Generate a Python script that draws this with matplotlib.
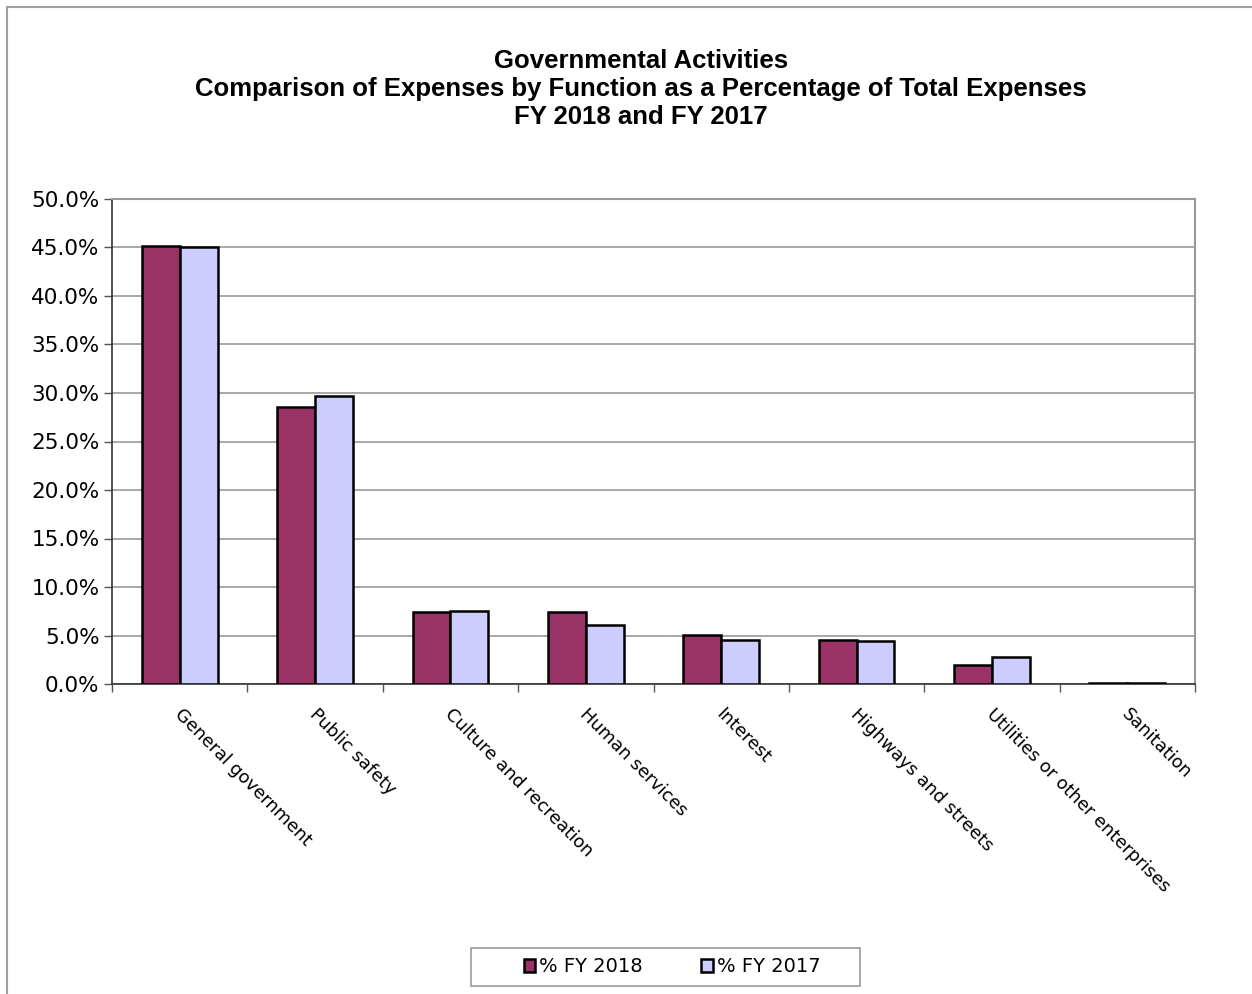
import matplotlib
matplotlib.use("Agg")
import matplotlib.pyplot as plt
import matplotlib.patches as mpatches
import numpy as np

categories = ["General government", "Public safety", "Culture and recreation",
              "Human services", "Interest", "Highways and streets",
              "Utilities or other enterprises", "Sanitation"]
fy2018 = [45.2, 28.6, 7.4, 7.4, 5.1, 4.5, 2.0, 0.1]
fy2017 = [45.0, 29.7, 7.5, 6.1, 4.5, 4.4, 2.8, 0.1]
series_labels = ["% FY 2018", "% FY 2017"]
yticks = np.arange(0, 50.1, 5)

W, H = 1252, 994
fig = plt.figure(figsize=(W / 100, H / 100), dpi=100)
fig.patch.set_facecolor("white")
FONT = "DejaVu Sans"

# outer chart frame
fig.add_artist(mpatches.Rectangle((7 / W, -0.01), 1.0, 1 - 7 / H + 0.01,
                                  transform=fig.transFigure, fill=False,
                                  edgecolor="#a0a0a0", linewidth=1.5))

ax = fig.add_axes([112 / W, 1 - 684 / H, (1195 - 112) / W, (684 - 199) / H])

x = np.arange(len(categories))
bw = 0.28
ax.bar(x - bw / 2, fy2018, bw, color="#993366", edgecolor="black", linewidth=1.8,
       label=series_labels[0], zorder=3)
ax.bar(x + bw / 2, fy2017, bw, color="#ccccff", edgecolor="black", linewidth=1.8,
       label=series_labels[1], zorder=3)

ax.set_xlim(-0.5, len(categories) - 0.5)
ax.set_ylim(0, 50)
ax.set_yticks(yticks)
ax.set_yticklabels([f"{v:.1f}%" for v in yticks], fontfamily=FONT, fontsize=15.5)
ax.yaxis.grid(True, color="#999999", linewidth=1.2, zorder=0)
ax.tick_params(axis="y", length=6, width=1, color="#555555", pad=3)

ax.set_xticks(np.arange(len(categories) + 1) - 0.5)
ax.set_xticklabels([])
ax.tick_params(axis="x", length=6, width=1, color="#555555")
for i, name in enumerate(categories):
    ax.annotate(name, xy=(i, 0), xycoords="data", xytext=(-2, -20),
                textcoords="offset points", rotation=-45, rotation_mode="anchor",
                ha="left", va="center", fontfamily=FONT, fontsize=12.9)

for side in ("top", "right"):
    ax.spines[side].set_color("#999999")
    ax.spines[side].set_linewidth(1.5)
for side in ("left", "bottom"):
    ax.spines[side].set_color("#333333")
    ax.spines[side].set_linewidth(1.2)

fig.text(641 / W, 1 - 89 / H, "Governmental Activities\n"
         "Comparison of Expenses by Function as a Percentage of Total Expenses\n"
         "FY 2018 and FY 2017", ha="center", va="center", fontfamily="Liberation Sans",
         fontweight="bold", fontsize=18.5, linespacing=1.2)

# legend box drawn separately (wider padding than matplotlib's frame)
fig.add_artist(mpatches.Rectangle((471 / W, 1 - 986 / H), (860 - 471) / W, 38 / H,
                                  transform=fig.transFigure, facecolor="white",
                                  edgecolor="#999999", linewidth=1.2, zorder=4))
leg = fig.legend(loc="center", bbox_to_anchor=(672 / W, 1 - 967 / H), ncol=2,
                 prop={"family": FONT, "size": 14}, frameon=False,
                 handlelength=0.6, handleheight=0.6, handletextpad=0.2,
                 columnspacing=3.0, borderpad=0.5)
leg.set_zorder(5)

fig.savefig("out.png", dpi=100, facecolor="white")
